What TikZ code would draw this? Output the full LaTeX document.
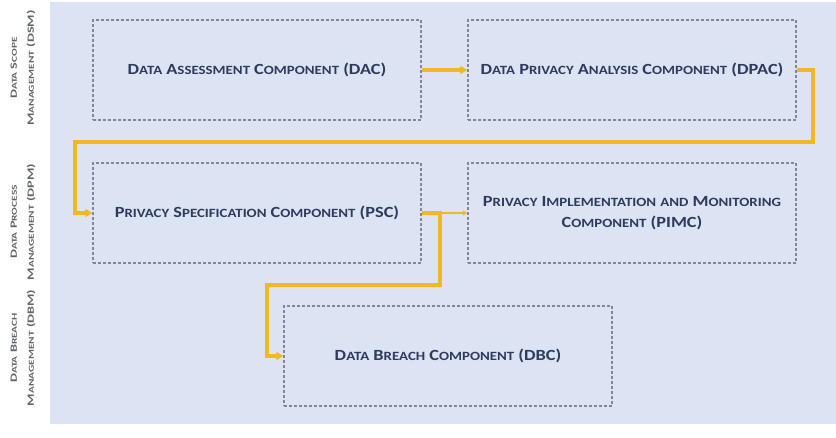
\documentclass[tikz,border=0pt]{standalone}
\usepackage{fontspec}
\setmainfont{Carlito}
\usetikzlibrary{arrows.meta}
\definecolor{panel}{HTML}{DCE3F2}
\definecolor{boxline}{HTML}{80879A}
\definecolor{txt}{HTML}{2E3A5E}
\definecolor{gold}{HTML}{F2B824}
\definecolor{side}{HTML}{60636B}
\newcommand\smc[1]{{\fontsize{12.6}{14}\selectfont #1}}
\newcommand\ssmc[1]{{\fontsize{7.6}{9}\selectfont #1}}
\newcommand\mtxt[1]{\scalebox{1.18}[1]{#1}}
\newcommand\stxt[1]{\scalebox{1.5}[1]{\begin{tabular}{@{}c@{}}#1\end{tabular}}}
\begin{document}
\begin{tikzpicture}[x=1pt,y=-1pt,
  comp/.style={draw=boxline, line width=1.3pt, dash pattern=on 3pt off 2pt,
    minimum width=328pt, minimum height=100pt, inner sep=0pt,
    font=\fontsize{15.5}{19}\selectfont\bfseries, text=txt, align=center},
  sidelbl/.style={rotate=90, inner sep=0pt, font=\fontsize{9.5}{17}\selectfont\bfseries, text=side},
  flow/.style={draw=gold, line width=3.4pt, -{Triangle[length=7pt,width=8pt]}},
  thinflow/.style={draw=gold, line width=1.3pt, -{Triangle[length=4.5pt,width=5pt]}}]
\useasboundingbox (0,0) rectangle (836,437);
\fill[white] (0,0) rectangle (836,437);
\fill[panel] (50,2) rectangle (836,424);

\node[comp] (dac) at (257,70) {\mtxt{D\smc{ATA} A\smc{SSESSMENT} C\smc{OMPONENT} (DAC)}};
\node[comp] (dpac) at (632,70) {\mtxt{D\smc{ATA} P\smc{RIVACY} A\smc{NALYSIS} C\smc{OMPONENT} (DPAC)}};
\node[comp] (psc) at (257,213) {\mtxt{P\smc{RIVACY} S\smc{PECIFICATION} C\smc{OMPONENT} (PSC)}};
\node[comp] (pimc) at (632,213) {\mtxt{\begin{tabular}{@{}c@{}}P\smc{RIVACY} I\smc{MPLEMENTATION} \smc{AND} M\smc{ONITORING}\\[2pt] C\smc{OMPONENT} (PIMC)\end{tabular}}};
\node[comp] (dbc) at (448,356) {\mtxt{D\smc{ATA} B\smc{REACH} C\smc{OMPONENT} (DBC)}};

\node[sidelbl] (dsm) at (22,68) {\stxt{D\ssmc{ATA} S\ssmc{COPE}\\M\ssmc{ANAGEMENT} (DSM)}};
\node[sidelbl] (dpm) at (22,222) {\stxt{D\ssmc{ATA} P\ssmc{ROCESS}\\M\ssmc{ANAGEMENT} (DPM)}};
\node[sidelbl] (dbm) at (22,348) {\stxt{D\ssmc{ATA} B\ssmc{REACH}\\M\ssmc{ANAGEMENT} (DBM)}};

\coordinate (r1) at (813,142);
\coordinate (l1) at (75,142);
\coordinate (c1) at (440,285);
\coordinate (c2) at (267,285);

\draw[flow] (dac.east) -- (dpac.west);
\draw[flow] (dpac.east) -| (r1) -- (l1) |- (psc.west);
\draw[thinflow] (psc.east) -- (pimc.west);
\draw[flow] (psc.east) -| (c1) -- (c2) |- (dbc.west);
\end{tikzpicture}
\end{document}
